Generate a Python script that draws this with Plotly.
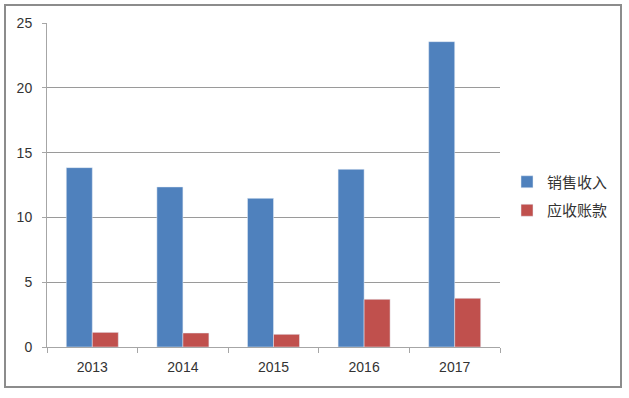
import plotly.graph_objects as go

years = ["2013", "2014", "2015", "2016", "2017"]
sales = [13.84, 12.35, 11.47, 13.71, 23.56]
receivables = [1.13, 1.08, 0.98, 3.68, 3.76]
y_ticks = [0, 5, 10, 15, 20, 25]

W, H = 629, 398
L, R, T, B = 47, 129, 23, 51
pw, ph = W - L - R, H - T - B

fig = go.Figure()
fig.add_trace(go.Bar(x=years, y=sales, name="销售收入", marker_color="#4F81BD",
                     legendgroup="a"))
fig.add_trace(go.Bar(x=years, y=receivables, name="应收账款", marker_color="#C0504D",
                     legendgroup="b"))

def px_x(v):
    return (v - L) / pw

def px_y(v):
    return (H - B - v) / ph

fig.add_shape(type="rect", xref="paper", yref="paper",
              x0=px_x(5), x1=px_x(621), y0=px_y(387), y1=px_y(5),
              line=dict(color="#8C8C8C", width=2), layer="below")

fig.update_layout(
    width=W, height=H,
    margin=dict(l=L, r=R, t=T, b=B, pad=0),
    paper_bgcolor="white", plot_bgcolor="white",
    barmode="group", bargap=0.426, bargroupgap=0,
    font=dict(family="Liberation Sans, Noto Sans CJK SC", size=14, color="#333"),
    legend=dict(x=px_x(507), y=px_y(196), xanchor="left", yanchor="middle",
                traceorder="grouped", tracegroupgap=6,
                font=dict(family="Noto Sans CJK SC", size=15, color="#333"),
                itemwidth=30),
    showlegend=True,
)
fig.update_xaxes(type="category", showline=True, linecolor="#A6A6A6", linewidth=1,
                 ticks="outside", tickson="boundaries", ticklen=5, tickcolor="#A6A6A6",
                 showgrid=False, tickfont=dict(size=14), ticklabelstandoff=7,
                 fixedrange=True)
fig.update_yaxes(range=[0, 25], tickvals=y_ticks, showline=True, linecolor="#A6A6A6",
                 linewidth=1, ticks="outside", ticklen=4, tickcolor="#A6A6A6",
                 showgrid=True, gridcolor="#9A9A9A", gridwidth=1, zeroline=False,
                 tickfont=dict(size=14), ticklabelstandoff=7, fixedrange=True)

fig.write_html("out.html", config={"displayModeBar": False},
               post_script="document.body.style.margin='0';document.body.style.overflow='hidden';")
